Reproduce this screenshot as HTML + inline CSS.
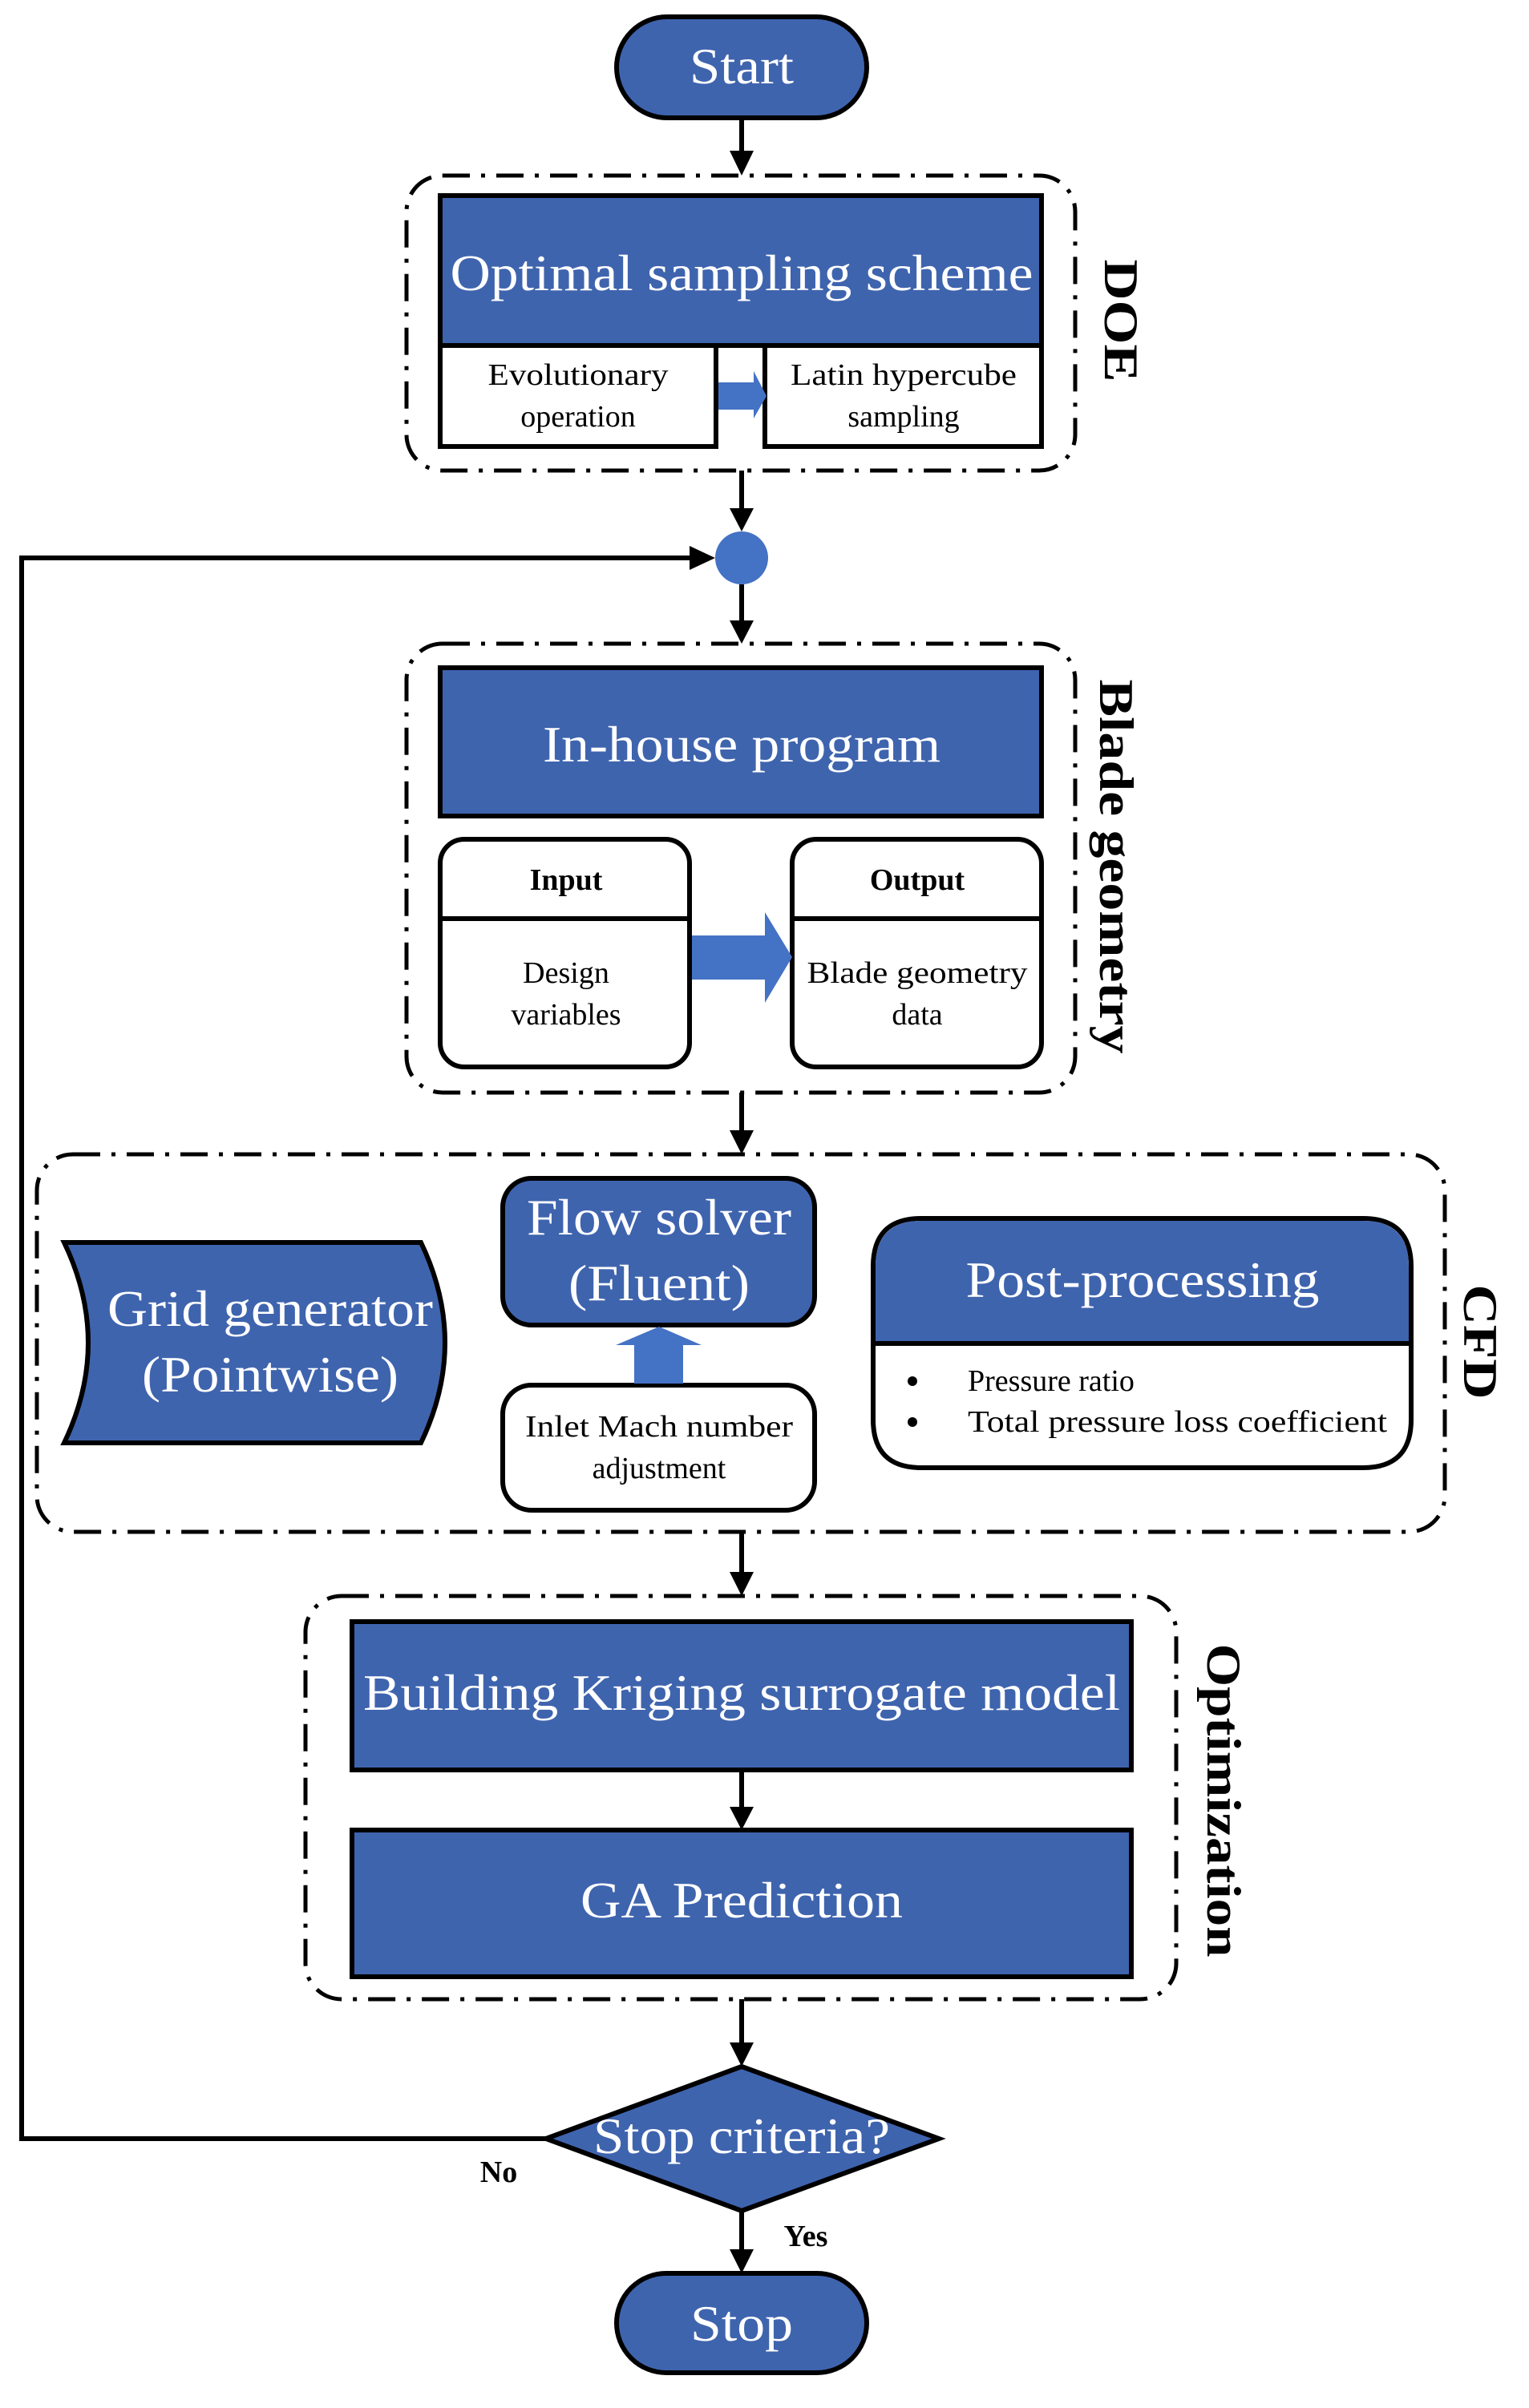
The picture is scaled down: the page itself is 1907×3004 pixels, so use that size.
<!DOCTYPE html>
<html><head><meta charset="utf-8"><style>html,body{margin:0;padding:0;background:#fff}svg{display:block}</style></head>
<body>
<svg width="1907" height="3004" viewBox="0 0 1907 3004" xmlns="http://www.w3.org/2000/svg" font-family="'Liberation Serif', serif">
<g fill="none" stroke="#000" stroke-width="5" stroke-dasharray="34 14 5 14">
<rect x="507" y="219" width="834" height="368" rx="45"/>
<rect x="507" y="803" width="834" height="560" rx="45"/>
<rect x="46" y="1440" width="1756" height="471" rx="45"/>
<rect x="381" y="1991" width="1086" height="503" rx="45"/>
</g>
<g stroke="#000" stroke-width="6" fill="none">
<line x1="925" y1="147" x2="925" y2="190"/>
<line x1="925" y1="587" x2="925" y2="636"/>
<line x1="925" y1="729" x2="925" y2="776"/>
<line x1="925" y1="1363" x2="925" y2="1412"/>
<line x1="925" y1="1911" x2="925" y2="1963"/>
<line x1="925" y1="2208" x2="925" y2="2256"/>
<line x1="925" y1="2494" x2="925" y2="2550"/>
<line x1="925" y1="2758" x2="925" y2="2808"/>
<polyline points="681,2668 27,2668 27,696 862,696"/>
</g>
<g fill="#000">
<polygon points="910,188 940,188 925,219"/>
<polygon points="910,634 940,634 925,663"/>
<polygon points="910,774 940,774 925,803"/>
<polygon points="910,1410 940,1410 925,1440"/>
<polygon points="910,1961 940,1961 925,1991"/>
<polygon points="910,2254 940,2254 925,2283"/>
<polygon points="910,2548 940,2548 925,2578"/>
<polygon points="910,2806 940,2806 925,2836"/>
<polygon points="860,681 860,711 892,696"/>
</g>
<g stroke="#000" stroke-width="6" fill="#3f64ae">
<rect x="769" y="21" width="312" height="126" rx="63"/>
<rect x="769" y="2836" width="312" height="124" rx="62"/>
<rect x="549" y="244" width="750" height="187"/>
<rect x="549" y="833" width="750" height="185"/>
<rect x="439" y="2023" width="972" height="185"/>
<rect x="439" y="2283" width="972" height="183"/>
<circle cx="925" cy="696" r="33" fill="#4472c4" stroke="none"/>
<path d="M80,1550 L525,1550 Q585,1675 525,1800 L80,1800 Q140,1675 80,1550 Z"/>
<rect x="627" y="1470" width="389" height="183" rx="36"/>
<polygon points="681,2668 925,2578 1171,2668 925,2758"/>
</g>
<g stroke="#000" stroke-width="6" fill="#fff">
<rect x="549" y="431" width="344" height="126"/>
<rect x="954" y="431" width="345" height="126"/>
<rect x="549" y="1047" width="311" height="284" rx="30"/>
<rect x="988" y="1047" width="311" height="284" rx="30"/>
<line x1="549" y1="1146" x2="860" y2="1146"/>
<line x1="988" y1="1146" x2="1299" y2="1146"/>
<rect x="627" y="1728" width="389" height="156" rx="36"/>
<path d="M1089,1771 L1089,1580 Q1089,1520 1149,1520 L1700,1520 Q1760,1520 1760,1580 L1760,1771 Q1760,1831 1700,1831 L1149,1831 Q1089,1831 1089,1771 Z"/>
</g>
<path d="M1092,1676 L1092,1580 Q1092,1523 1149,1523 L1700,1523 Q1757,1523 1757,1580 L1757,1676 Z" fill="#3f64ae"/>
<line x1="1089" y1="1676" x2="1760" y2="1676" stroke="#000" stroke-width="6"/>
<g fill="#4472c4">
<polygon points="896,477 940,477 940,463 956,494 940,522 940,511 896,511"/>
<polygon points="863,1167 954,1167 954,1138 988,1194 954,1251 954,1222 863,1222"/>
<polygon points="791,1726 852,1726 852,1678 875,1678 822,1655 768,1678 791,1678"/>
</g>
<g fill="#fff" text-anchor="middle" font-size="64">
<text x="925" y="104" textLength="130" lengthAdjust="spacingAndGlyphs">Start</text>
<text x="925" y="2920" textLength="128" lengthAdjust="spacingAndGlyphs">Stop</text>
<text x="925" y="362" textLength="727" lengthAdjust="spacingAndGlyphs">Optimal sampling scheme</text>
<text x="925" y="950" textLength="496" lengthAdjust="spacingAndGlyphs">In-house program</text>
<text x="337" y="1654" textLength="406" lengthAdjust="spacingAndGlyphs">Grid generator</text>
<text x="337" y="1736" textLength="320" lengthAdjust="spacingAndGlyphs">(Pointwise)</text>
<text x="822" y="1540" textLength="330" lengthAdjust="spacingAndGlyphs">Flow solver</text>
<text x="822" y="1622" textLength="226" lengthAdjust="spacingAndGlyphs">(Fluent)</text>
<text x="1425" y="1618" textLength="441" lengthAdjust="spacingAndGlyphs">Post-processing</text>
<text x="925" y="2133" textLength="944" lengthAdjust="spacingAndGlyphs">Building Kriging surrogate model</text>
<text x="925" y="2392" textLength="402" lengthAdjust="spacingAndGlyphs">GA Prediction</text>
<text x="925" y="2686" textLength="370" lengthAdjust="spacingAndGlyphs">Stop criteria?</text>
</g>
<g fill="#000" text-anchor="middle" font-size="38">
<text x="721" y="480" textLength="225" lengthAdjust="spacingAndGlyphs">Evolutionary</text>
<text x="721" y="532">operation</text>
<text x="1127" y="480" textLength="282" lengthAdjust="spacingAndGlyphs">Latin hypercube</text>
<text x="1127" y="532">sampling</text>
<text x="706" y="1110" font-weight="bold">Input</text>
<text x="1144" y="1110" font-weight="bold">Output</text>
<text x="706" y="1226">Design</text>
<text x="706" y="1278">variables</text>
<text x="1144" y="1226" textLength="275" lengthAdjust="spacingAndGlyphs">Blade geometry</text>
<text x="1144" y="1278">data</text>
<text x="822" y="1792" textLength="334" lengthAdjust="spacingAndGlyphs">Inlet Mach number</text>
<text x="822" y="1844">adjustment</text>
<text x="622" y="2722" font-weight="bold">No</text>
<text x="1005" y="2802" font-weight="bold">Yes</text>
</g>
<g fill="#000" font-size="38">
<circle cx="1138" cy="1723" r="6"/>
<circle cx="1138" cy="1774" r="6"/>
<text x="1207" y="1735">Pressure ratio</text>
<text x="1207" y="1786" textLength="523" lengthAdjust="spacingAndGlyphs">Total pressure loss coefficient</text>
</g>
<g fill="#000" font-size="60" font-weight="bold" text-anchor="middle">
<text transform="translate(1378,400) rotate(90)" textLength="153" lengthAdjust="spacingAndGlyphs">DOE</text>
<text transform="translate(1372,1081) rotate(90)" textLength="467" lengthAdjust="spacingAndGlyphs">Blade geometry</text>
<text transform="translate(1826,1674) rotate(90)" textLength="143" lengthAdjust="spacingAndGlyphs">CFD</text>
<text transform="translate(1506,2246) rotate(90)" textLength="391" lengthAdjust="spacingAndGlyphs">Optimization</text>
</g>
</svg>
</body></html>
